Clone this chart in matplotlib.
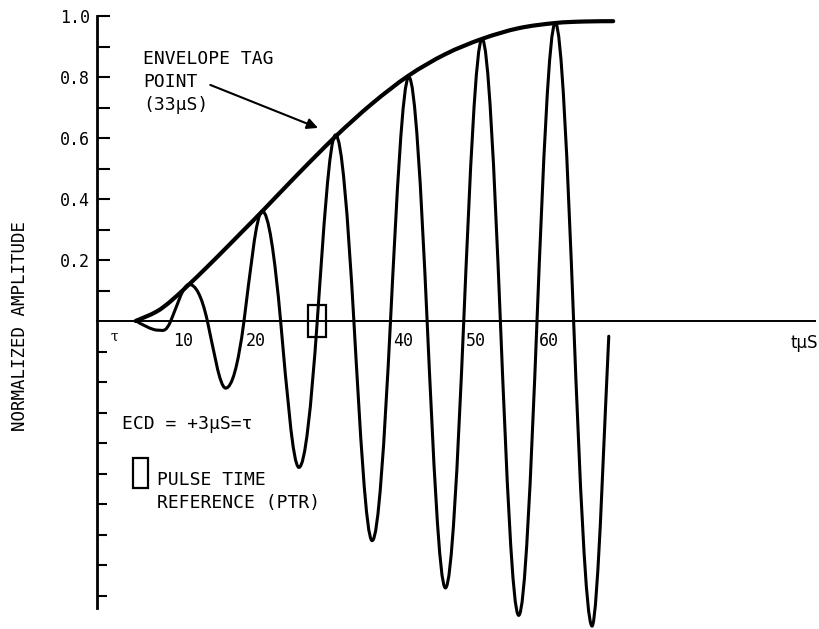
import matplotlib.pyplot as plt
import numpy as np
from matplotlib.path import Path
from matplotlib.patches import PathPatch, Rectangle

# Envelope of the pulse (normalized amplitude vs time in microseconds)
env_t = [5.2, 8.0, 10.0, 12.5, 15.0, 17.5, 20.0, 22.5, 27.5, 32.5, 37.5,
         42.5, 47.5, 52.5, 57.5, 62.5, 66.5, 70.4]
env_amp = [0.0, 0.03, 0.065, 0.12, 0.178, 0.238, 0.299, 0.36, 0.485, 0.605, 0.713,
           0.805, 0.875, 0.925, 0.96, 0.977, 0.982, 0.983]

# Carrier waveform: zero crossings, peaks and troughs
wave_t = [5.3, 8.2, 10, 12.5, 15, 17.5, 20, 22.5, 25, 27.5, 30, 32.5, 35, 37.5,
          40, 42.5, 45, 47.5, 50, 52.5, 55, 57.5, 60, 62.5, 65, 67.5, 69.8]
wave_amp = [0, -0.03, 0, 0.12, 0, -0.22, 0, 0.36, 0, -0.48, 0, 0.61, 0, -0.72,
            0, 0.80, 0, -0.875, 0, 0.925, 0, -0.965, 0, 0.977, 0, -1.0, -0.05]

xtick_pos = [10, 20, 40, 50, 60]
xtick_labels = ['10', '20', '40', '50', '60']
ytick_pos = [0.1, 0.2, 0.3, 0.4, 0.5, 0.6, 0.7, 0.8, 0.9, 1.0]
ytick_labels = ['', '0.2', '', '0.4', '', '0.6', '', '0.8', '', '1.0']
yminor_pos = [-0.1, -0.2, -0.3, -0.4, -0.5, -0.6, -0.7, -0.8, -0.9]

tag_lines = ['ENVELOPE TAG', 'POINT', '(33\u03bcS)']
ptr_t = 30  # pulse time reference


def smooth_path(xs, ys, crossing_gain=1.0):
    # Catmull-Rom through the points, drawn as cubic Bezier segments
    p = np.column_stack([xs, ys]).astype(float)
    n = len(p)
    tang = np.zeros_like(p)
    for i in range(n):
        a = p[max(i - 1, 0)]
        b = p[min(i + 1, n - 1)]
        tang[i] = (b - a) / 2
        if p[i, 1] == 0:
            tang[i, 1] *= crossing_gain
    verts = [p[0]]
    codes = [Path.MOVETO]
    for i in range(n - 1):
        verts += [p[i] + tang[i] / 3, p[i + 1] - tang[i + 1] / 3, p[i + 1]]
        codes += [Path.CURVE4] * 3
    return Path(verts, codes)


mono = 'DejaVu Sans Mono'
fig = plt.figure(figsize=(8.2, 6.29), dpi=100)
ax = fig.add_axes([97.5 / 820, 3 / 629, 98 * 7.325 / 820, 610 / 629])
ax.set_xlim(0, 98)
ax.set_ylim(-1, 1)

ax.add_patch(PathPatch(smooth_path(env_t, env_amp), fill=False, lw=3.0,
                       capstyle='round', clip_on=False))
ax.add_patch(PathPatch(smooth_path(wave_t, wave_amp, np.pi / 2), fill=False,
                       lw=2.2, capstyle='round', clip_on=False))

# axes styling
for s in ['top', 'right']:
    ax.spines[s].set_visible(False)
ax.spines['left'].set_bounds(-0.94, 1.0)
ax.spines['left'].set_linewidth(2.0)
ax.spines['bottom'].set_position(('data', 0))
ax.spines['bottom'].set_bounds(0, 98)
ax.spines['bottom'].set_linewidth(1.4)
ax.set_xticks([])
ax.set_yticks(ytick_pos)
ax.set_yticklabels(ytick_labels, family=mono, fontsize=12)
ax.set_yticks(yminor_pos, minor=True)
ax.tick_params(axis='y', which='major', direction='in', length=9.5, width=1.5, pad=5.5)
ax.tick_params(axis='y', which='minor', direction='in', length=7.5, width=1.5)

for pos, lab in zip(xtick_pos, xtick_labels):
    ax.text(pos + 0.3, -0.066, lab, ha='left', va='center', family=mono, fontsize=12)
ax.text(2.25, -0.05, '\u03c4', ha='center', va='center', fontsize=10, family='DejaVu Serif')
ax.text(96.5, -0.072, 't\u03bcS', ha='center', va='center', fontsize=12, family='DejaVu Sans')

fig.text(20 / 820, 1 - 326 / 629, 'NORMALIZED AMPLITUDE', rotation=90, ha='center',
         va='center', family=mono, fontsize=12.5)

# envelope tag annotation
for i, line in enumerate(tag_lines):
    ax.text(6.2, 0.86 - i * 0.076, line, ha='left', va='center', family=mono, fontsize=13)
ax.annotate('', xy=(30.1, 0.633), xytext=(15.4, 0.774),
            arrowprops=dict(arrowstyle='-|>', lw=1.5, color='black',
                            mutation_scale=16, shrinkA=0, shrinkB=0))

# pulse time reference marker
ax.add_patch(Rectangle((ptr_t - 1.25, -0.052), 2.5, 0.104, fill=False, lw=1.6,
                       clip_on=False))

ax.text(3.3, -0.338, 'ECD = +3\u03bcS=\u03c4', ha='left', va='center', family=mono, fontsize=13)
ax.add_patch(Rectangle((4.85, -0.548), 2.05, 0.099, fill=False, lw=1.6, clip_on=False))
ax.text(8.1, -0.521, 'PULSE TIME', ha='left', va='center', family=mono, fontsize=13)
ax.text(8.1, -0.597, 'REFERENCE (PTR)', ha='left', va='center', family=mono, fontsize=13)

fig.savefig('out.png', dpi=100)
